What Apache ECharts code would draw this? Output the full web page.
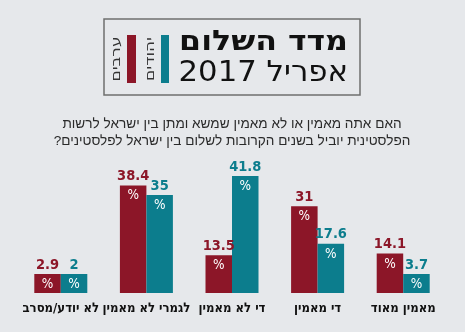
<!DOCTYPE html>
<html dir="rtl">
<head>
<meta charset="utf-8">
<script src="https://cdn.jsdelivr.net/npm/echarts@6/dist/echarts.min.js"></script>
<style>
html,body{margin:0;padding:0;background:#e6e8eb;}
#c{width:465px;height:332px;}
</style>
</head>
<body>
<div id="c"></div>
<script>
const categories = ['לא יודע/מסרב', 'לגמרי לא מאמין', 'די לא מאמין', 'די מאמין', 'מאמין מאוד'];
const arabs = [2.9, 38.4, 13.5, 31, 14.1];
const jews = [2, 35, 41.8, 17.6, 3.7];
const seriesNames = ['ערבים', 'יהודים'];
const titleMain = 'מדד השלום';
const titleDate = 'אפריל 2017';
const question = 'האם אתה מאמין או לא מאמין שמשא ומתן בין ישראל לרשות\nהפלסטינית יוביל בשנים הקרובות לשלום בין ישראל לפלסטינים?';

const RED = '#8c1628';
const TEAL = '#0c7d8d';
const NUMFONT = "'DejaVu Sans Condensed', sans-serif";

function mkLabel(color) {
  return {
    show: true,
    position: 'insideTop',
    distance: 0,
    offset: [0, -18],
    formatter: p => '{v|' + p.value + '}\n{p|%}',
    rich: {
      v: {color: color, fontFamily: NUMFONT, fontWeight: 'bold', fontSize: 14.5, lineHeight: 18, align: 'center'},
      p: {color: '#fff', fontFamily: NUMFONT, fontSize: 13.5, lineHeight: 21, align: 'center'}
    }
  };
}

const chart = echarts.init(document.getElementById('c'), null, {renderer: 'canvas'});
chart.setOption({
  backgroundColor: '#e6e8eb',
  animation: false,
  grid: {left: 18, right: 19, top: 153, bottom: 39},
  xAxis: {
    type: 'category',
    data: categories,
    axisLine: {show: false},
    axisTick: {show: false},
    axisLabel: {interval: 0, margin: 9, color: '#111', fontSize: 13, fontWeight: 'bold', fontFamily: 'DejaVu Sans Condensed'}
  },
  yAxis: {type: 'value', min: 0, max: 50, show: false, splitLine: {show: false}},
  series: [
    {name: seriesNames[0], type: 'bar', data: arabs, barWidth: 26.5, barGap: '0%', barMinHeight: 19,
     itemStyle: {color: RED}, label: mkLabel(RED)},
    {name: seriesNames[1], type: 'bar', data: jews, barWidth: 26.5, barGap: '0%', barMinHeight: 19,
     itemStyle: {color: TEAL}, label: mkLabel(TEAL)}
  ],
  graphic: [
    {type: 'rect', shape: {x: 104, y: 19, width: 256, height: 76}, style: {fill: 'transparent', stroke: '#6f6f6f', lineWidth: 1.5}},
    {type: 'rect', shape: {x: 127, y: 35, width: 9, height: 48}, style: {fill: RED}},
    {type: 'rect', shape: {x: 161, y: 35, width: 8, height: 48}, style: {fill: TEAL}},
    {type: 'text', x: 117, y: 59, rotation: Math.PI / 2, scaleX: 1.45,
     style: {text: seriesNames[0], fill: '#333', fontSize: 13, fontFamily: 'DejaVu Sans Condensed', align: 'center', verticalAlign: 'middle'}},
    {type: 'text', x: 151, y: 59, rotation: Math.PI / 2, scaleX: 1.45,
     style: {text: seriesNames[1], fill: '#333', fontSize: 13, fontFamily: 'DejaVu Sans Condensed', align: 'center', verticalAlign: 'middle'}},
    {type: 'text', x: 348, y: 43, scaleX: 1.13,
     style: {text: titleMain, fill: '#111', fontSize: 28, fontWeight: 'bold', fontFamily: 'DejaVu Sans', align: 'right', verticalAlign: 'middle'}},
    {type: 'text', x: 348, y: 73, scaleX: 1.06,
     style: {text: titleDate, fill: '#111', fontSize: 29, fontFamily: 'DejaVu Sans', align: 'right', verticalAlign: 'middle'}},
    {type: 'text', x: 232, y: 133,
     style: {text: question, fill: '#2a2a2a', fontSize: 13.6, lineHeight: 17, fontFamily: 'Liberation Sans', align: 'center', verticalAlign: 'middle'}}
  ]
});
</script>
</body>
</html>
